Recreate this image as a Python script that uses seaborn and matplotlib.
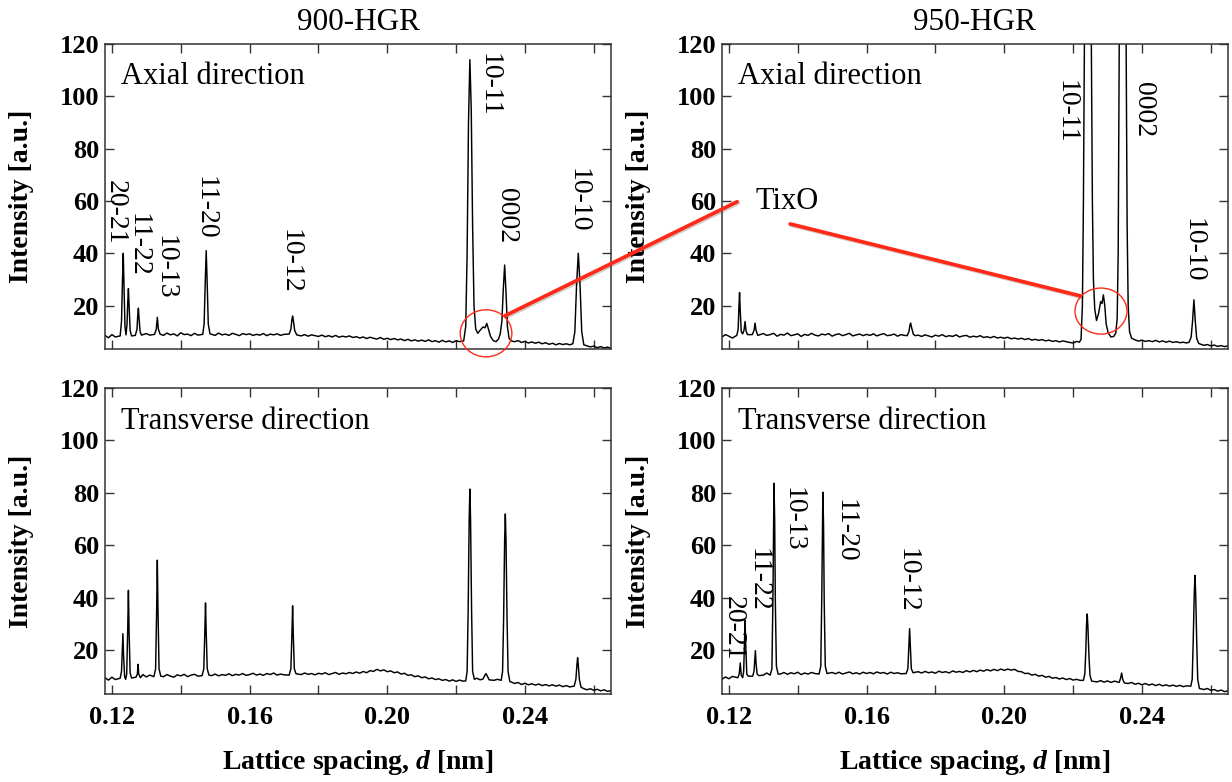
import numpy as np
import pandas as pd
import matplotlib
matplotlib.use("Agg")
import matplotlib.pyplot as plt
import seaborn as sns
from matplotlib.patches import Ellipse, ConnectionPatch
from matplotlib.ticker import FixedLocator, FormatStrFormatter
import matplotlib.patheffects as pe

# ---------------- data ----------------
# baseline sampling positions (nm)
d_grid = [0.118, 0.119, 0.120, 0.121, 0.122, 0.123, 0.124, 0.125, 0.126, 0.127,
          0.128, 0.129, 0.130, 0.131, 0.132, 0.133, 0.134, 0.135, 0.136, 0.137,
          0.138, 0.139, 0.140, 0.141, 0.142, 0.143, 0.144, 0.145, 0.146, 0.147,
          0.148, 0.149, 0.150, 0.151, 0.152, 0.153, 0.154, 0.155, 0.156, 0.157,
          0.158, 0.159, 0.160, 0.161, 0.162, 0.163, 0.164, 0.165, 0.166, 0.167,
          0.168, 0.169, 0.170, 0.171, 0.172, 0.173, 0.174, 0.175, 0.176, 0.177,
          0.178, 0.179, 0.180, 0.181, 0.182, 0.183, 0.184, 0.185, 0.186, 0.187,
          0.188, 0.189, 0.190, 0.191, 0.192, 0.193, 0.194, 0.195, 0.196, 0.197,
          0.198, 0.199, 0.200, 0.201, 0.202, 0.203, 0.204, 0.205, 0.206, 0.207,
          0.208, 0.209, 0.210, 0.211, 0.212, 0.213, 0.214, 0.215, 0.216, 0.217,
          0.218, 0.219, 0.220, 0.221, 0.222, 0.223, 0.224, 0.225, 0.226, 0.227,
          0.228, 0.229, 0.230, 0.231, 0.232, 0.233, 0.234, 0.235, 0.236, 0.237,
          0.238, 0.239, 0.240, 0.241, 0.242, 0.243, 0.244, 0.245, 0.246, 0.247,
          0.248, 0.249, 0.250, 0.251, 0.252, 0.253, 0.254, 0.255, 0.256, 0.257,
          0.258, 0.259, 0.260, 0.261, 0.262, 0.263, 0.264, 0.265]

# background intensity
base_900_axial = [8.6, 7.7, 8.9, 8.0, 8.4, 8.3, 8.3, 8.5, 8.6, 8.8,
                  9.4, 8.5, 9.3, 8.7, 9.0, 9.0, 9.0, 8.6, 9.5, 8.8,
                  9.2, 8.4, 9.6, 8.9, 9.1, 8.5, 9.4, 8.7, 9.2, 9.0,
                  9.0, 9.3, 8.6, 9.5, 8.8, 9.1, 8.6, 9.4, 9.0, 8.5,
                  9.3, 8.9, 9.2, 8.6, 9.0, 8.7, 9.3, 8.5, 9.1, 8.8,
                  9.2, 8.6, 9.0, 8.8, 9.0, 9.0, 9.0, 8.4, 8.9, 8.3,
                  8.8, 8.5, 8.2, 8.7, 8.1, 8.5, 8.0, 8.6, 7.9, 8.3,
                  8.0, 8.4, 7.8, 8.1, 7.6, 8.0, 7.4, 7.9, 7.5, 7.2,
                  7.8, 7.1, 7.5, 7.0, 7.4, 6.9, 7.2, 6.6, 7.1, 6.5,
                  6.9, 6.4, 6.8, 6.3, 6.9, 6.2, 6.6, 6.0, 6.7, 6.1,
                  6.5, 5.9, 6.6, 6.2, 6.5, 8.0, 8.0, 8.0, 8.0, 8.0,
                  8.0, 8.0, 8.0, 6.5, 6.5, 6.5, 6.5, 6.5, 6.5, 6.2,
                  6.6, 5.9, 6.3, 5.7, 6.1, 5.6, 6.0, 5.4, 5.8, 5.2,
                  5.6, 5.0, 5.5, 5.1, 5.4, 5.0, 5.3, 5.0, 5.0, 5.0,
                  4.6, 4.2, 4.5, 3.9, 4.3, 3.8, 4.1, 3.7]
base_950_axial = [8.0, 8.9, 8.3, 7.6, 9.0, 8.8, 8.8, 8.8, 8.8, 8.8,
                  8.8, 8.4, 9.3, 8.6, 8.9, 9.4, 8.3, 9.0, 8.7, 9.5,
                  8.5, 8.8, 9.2, 8.2, 9.0, 8.6, 9.4, 8.7, 8.4, 9.1,
                  8.8, 9.3, 8.3, 8.9, 9.2, 8.5, 8.9, 9.4, 8.4, 8.8,
                  9.1, 8.5, 9.0, 8.6, 9.2, 8.4, 8.9, 9.3, 8.5, 8.7,
                  9.1, 8.3, 8.9, 8.6, 8.6, 8.6, 8.6, 8.7, 8.2, 8.8,
                  8.4, 8.0, 8.7, 8.3, 8.9, 8.1, 8.5, 8.2, 8.8, 8.0,
                  8.4, 8.6, 7.9, 8.3, 8.0, 8.5, 7.8, 8.1, 7.7, 8.2,
                  7.6, 7.9, 7.5, 7.9, 7.3, 7.6, 7.2, 7.5, 7.0, 7.4,
                  6.8, 7.1, 6.7, 7.0, 6.5, 6.8, 6.3, 6.6, 6.1, 6.5,
                  6.2, 5.9, 5.7, 6.3, 8.0, 8.0, 8.0, 8.0, 8.0, 8.0,
                  8.0, 8.0, 8.0, 8.0, 8.0, 8.0, 8.0, 8.0, 8.0, 8.0,
                  6.9, 6.4, 6.8, 6.3, 6.6, 6.2, 6.7, 6.1, 6.5, 6.0,
                  6.4, 5.9, 6.2, 5.8, 6.0, 5.7, 5.8, 5.8, 5.8, 5.2,
                  4.8, 5.1, 4.6, 4.9, 4.4, 4.7, 4.3, 4.6]
base_900_transverse = [9.6, 8.7, 9.8, 8.9, 9.4, 10.0, 10.0, 10.0, 10.0, 10.0,
                       10.2, 10.8, 9.9, 10.6, 10.1, 10.5, 10.5, 10.0, 10.8, 10.2,
                       9.8, 10.7, 10.3, 10.9, 10.0, 10.6, 10.9, 10.2, 10.7, 10.5,
                       10.5, 10.4, 11.0, 10.3, 10.8, 10.5, 11.1, 10.4, 10.9, 10.6,
                       11.2, 10.5, 10.8, 11.3, 10.6, 11.0, 10.5, 11.2, 10.8, 11.4,
                       10.6, 11.0, 10.7, 11.1, 11.0, 11.0, 11.3, 10.8, 11.4, 10.9,
                       11.2, 10.7, 11.3, 11.0, 11.5, 10.8, 11.2, 11.6, 10.9, 11.4,
                       11.1, 11.6, 11.2, 11.8, 11.3, 12.0, 11.5, 12.3, 12.0, 12.8,
                       12.2, 12.6, 11.9, 12.2, 11.5, 11.8, 11.0, 11.3, 10.5, 10.7,
                       10.0, 10.3, 9.6, 9.9, 9.2, 9.5, 8.9, 9.2, 8.6, 8.9,
                       8.3, 8.8, 8.2, 8.7, 8.3, 9.0, 9.0, 9.0, 9.4, 8.8,
                       9.0, 9.0, 9.2, 8.6, 9.0, 8.5, 8.5, 8.5, 7.8, 7.4,
                       7.8, 7.0, 7.5, 6.9, 7.3, 6.8, 7.2, 6.6, 7.0, 6.5,
                       6.9, 6.4, 6.8, 6.2, 6.6, 6.1, 6.3, 6.3, 6.3, 5.5,
                       5.0, 5.4, 4.8, 5.2, 4.6, 5.0, 4.4, 4.7]
base_950_transverse = [9.0, 9.9, 9.2, 10.1, 9.4, 10.0, 10.0, 10.0, 10.0, 10.0,
                       10.8, 11.2, 10.6, 11.4, 10.9, 11.0, 11.0, 11.0, 11.6, 10.9,
                       11.5, 11.1, 11.7, 10.8, 11.4, 11.0, 11.6, 11.2, 11.5, 11.2,
                       11.2, 11.0, 11.6, 11.1, 11.7, 11.0, 11.4, 11.8, 11.1, 11.5,
                       11.0, 11.7, 11.2, 11.6, 11.1, 11.8, 11.3, 11.6, 11.0, 11.7,
                       11.2, 11.5, 11.1, 11.6, 11.3, 11.3, 11.3, 11.9, 11.4, 12.0,
                       11.5, 11.8, 11.3, 12.1, 11.6, 11.9, 11.4, 12.2, 11.7, 12.0,
                       11.6, 12.3, 11.8, 12.4, 11.9, 12.5, 12.1, 12.7, 12.2, 12.8,
                       12.3, 12.9, 12.4, 12.9, 12.5, 12.8, 12.0, 11.9, 11.2, 11.3,
                       10.6, 10.9, 10.2, 10.5, 9.8, 10.1, 9.4, 9.7, 9.1, 9.5,
                       8.9, 9.3, 8.7, 9.0, 8.6, 8.6, 8.6, 8.6, 8.6, 8.0,
                       8.5, 7.9, 8.4, 7.8, 8.3, 7.9, 7.9, 7.9, 7.4, 7.8,
                       7.1, 7.5, 6.9, 7.4, 6.8, 7.2, 6.6, 7.1, 6.5, 6.9,
                       6.4, 6.8, 6.3, 6.7, 6.2, 6.5, 6.0, 6.0, 6.0, 5.6,
                       5.1, 5.5, 4.8, 5.1, 4.5, 4.9, 4.3, 4.6]

# diffraction peak profiles (d [nm], intensity)
peaks_900_axial = [
    (0.1224, 8.4), (0.1228, 14), (0.1231, 31), (0.1233, 40), (0.1235, 29), (0.1238, 12),
    (0.1241, 8.8), (0.1244, 13), (0.1246, 21), (0.1248, 26.5), (0.1250, 20), (0.1253, 10.5),
    (0.1257, 8.4),
    (0.1268, 8.6), (0.1273, 11), (0.1275, 16), (0.1277, 19), (0.1279, 15), (0.1282, 10), (0.1286, 8.7),
    (0.1324, 9.0), (0.1329, 11), (0.1332, 15.5), (0.1335, 11), (0.1340, 9.1),
    (0.1464, 9.0), (0.1468, 13), (0.1471, 28), (0.1474, 41), (0.1477, 28), (0.1480, 13), (0.1485, 9.2),
    (0.1715, 9.1), (0.1720, 11), (0.1723, 14.5), (0.1725, 16), (0.1727, 14.5), (0.1731, 10.5), (0.1737, 8.8),
    (0.2222, 6.5), (0.2228, 12), (0.2232, 40), (0.2236, 90), (0.2240, 114), (0.2244, 95),
    (0.2248, 50), (0.2252, 20), (0.2257, 11), (0.2263, 9.4), (0.2270, 10.6), (0.2278, 11.8),
    (0.2284, 11.5), (0.2289, 13.2), (0.2294, 11), (0.2300, 8.2), (0.2308, 6.6), (0.2316, 6.2),
    (0.2323, 7.2), (0.2328, 9), (0.2333, 14), (0.2337, 26), (0.2341, 35.5), (0.2345, 25),
    (0.2349, 12), (0.2354, 7.4), (0.2362, 6.4),
    (0.2539, 5.4), (0.2545, 10), (0.2550, 28), (0.2555, 40), (0.2560, 28), (0.2565, 10), (0.2571, 5.0),
]
peaks_950_axial = [
    (0.1223, 8.6), (0.1227, 11), (0.1229, 19), (0.1231, 25), (0.1233, 18), (0.1236, 10),
    (0.1240, 9.2), (0.1244, 10.6), (0.1247, 13.9), (0.1250, 10.2), (0.1254, 8.9),
    (0.1268, 8.9), (0.1273, 10.5), (0.1276, 13.3), (0.1279, 10.5), (0.1284, 8.6),
    (0.1718, 8.5), (0.1723, 10), (0.1726, 12.5), (0.1728, 13.3), (0.1731, 11.5), (0.1736, 9), (0.1741, 8.5),
    (0.2218, 6.0), (0.2223, 7.0), (0.2227, 20), (0.2230, 60), (0.2233, 120), (0.2238, 260),
    (0.2243, 330), (0.2248, 260), (0.2253, 120), (0.2256, 60), (0.2259, 30), (0.2263, 18.5),
    (0.2268, 14.3), (0.2274, 17), (0.2280, 21.5), (0.2284, 20.8), (0.2288, 24.1), (0.2292, 20),
    (0.2296, 13), (0.2302, 9.5), (0.2310, 8.0), (0.2318, 8.2), (0.2324, 9.5), (0.2328, 15),
    (0.2331, 40), (0.2334, 120), (0.2339, 250), (0.2344, 300), (0.2349, 250), (0.2354, 120),
    (0.2357, 50), (0.2360, 20), (0.2364, 10), (0.2370, 7.5),
    (0.2537, 6.0), (0.2543, 8.0), (0.2547, 14), (0.2551, 22.2), (0.2555, 14), (0.2559, 7.5), (0.2565, 5.5),
]
peaks_900_transverse = [
    (0.1224, 9.4), (0.1228, 12), (0.1230, 19), (0.1232, 26.4), (0.1234, 18), (0.1237, 10),
    (0.1240, 9.0), (0.1243, 11), (0.1246, 28), (0.1248, 42.9), (0.1250, 27), (0.1253, 11.5),
    (0.1257, 9.5),
    (0.1270, 9.8), (0.1274, 11), (0.1276, 14.7), (0.1278, 11), (0.1283, 9.6),
    (0.1322, 10.0), (0.1327, 13), (0.1330, 35), (0.1332, 54.4), (0.1334, 35), (0.1337, 13), (0.1342, 10.2),
    (0.1462, 10.4), (0.1467, 13), (0.1470, 27), (0.1472, 38.1), (0.1474, 27), (0.1477, 13), (0.1482, 10.6),
    (0.1715, 10.6), (0.1720, 13), (0.1723, 26), (0.1725, 37), (0.1727, 26), (0.1730, 13), (0.1735, 11.1),
    (0.2228, 8.4), (0.2232, 12), (0.2235, 35), (0.2238, 70), (0.2240, 81.5), (0.2242, 70),
    (0.2245, 35), (0.2248, 12), (0.2253, 9.0),
    (0.2278, 9.1), (0.2284, 10.6), (0.2287, 11.2), (0.2290, 10.4), (0.2296, 8.8),
    (0.2331, 8.6), (0.2335, 12), (0.2338, 32), (0.2341, 62), (0.2343, 72), (0.2345, 62),
    (0.2348, 32), (0.2351, 12), (0.2356, 8.2),
    (0.2543, 6.4), (0.2548, 9), (0.2551, 14.5), (0.2553, 17.2), (0.2555, 14.5), (0.2558, 9), (0.2563, 6.0),
]
peaks_950_transverse = [
    (0.1226, 9.6), (0.1230, 11), (0.1233, 15.2), (0.1236, 10.5), (0.1240, 9.6), (0.1243, 12),
    (0.1245, 22), (0.1247, 31.4), (0.1249, 22), (0.1252, 11), (0.1256, 10.2),
    (0.1269, 10.2), (0.1273, 12), (0.1275, 16), (0.1277, 19.9), (0.1279, 15), (0.1282, 11), (0.1287, 10.4),
    (0.1320, 10.6), (0.1325, 13), (0.1328, 40), (0.1330, 72), (0.1331, 83.7), (0.1333, 70),
    (0.1335, 38), (0.1338, 14), (0.1343, 11),
    (0.1462, 11), (0.1467, 14), (0.1470, 42), (0.1472, 70), (0.1473, 80.3), (0.1475, 68),
    (0.1477, 38), (0.1480, 14), (0.1485, 11.2),
    (0.1715, 11.2), (0.1720, 13), (0.1723, 22), (0.1725, 28.3), (0.1727, 22), (0.1730, 13), (0.1735, 11.5),
    (0.2230, 8.6), (0.2234, 11), (0.2237, 20), (0.2239, 30), (0.2241, 33.9), (0.2243, 29),
    (0.2246, 18), (0.2249, 10.5), (0.2254, 8.3),
    (0.2334, 7.8), (0.2338, 9.5), (0.2341, 11.4), (0.2344, 9), (0.2349, 7.6),
    (0.2542, 6.4), (0.2546, 9), (0.2549, 24), (0.2552, 42), (0.2554, 48.6), (0.2556, 42),
    (0.2559, 24), (0.2562, 9), (0.2567, 5.5),
]

# reflection labels (text only)
labels_900_axial = ["20-21", "11-22", "10-13", "11-20", "10-12", "10-11", "0002", "10-10"]
labels_950_axial = ["10-11", "0002", "10-10"]
labels_950_transverse = ["20-21", "11-22", "10-13", "11-20", "10-12"]
titles = ["900-HGR", "950-HGR"]
directions = ["Axial direction", "Transverse direction"]
x_ticks = [0.12, 0.16, 0.20, 0.24]
x_minor = [0.14, 0.18, 0.22, 0.26]
y_ticks = [20, 40, 60, 80, 100, 120]

# ---------------- layout / style ----------------
label_pos_900_axial = [(0.1211, 68.0), (0.1276, 55.4), (0.1356, 47.0), (0.1472, 69.5),
                       (0.1719, 49.3), (0.2295, 116.6), (0.2345, 65.0), (0.2553, 72.6)]
label_pos_950_axial = [(0.2181, 106.2), (0.2404, 105.5), (0.2550, 53.3)]
label_pos_950_transverse = [(0.1214, 40.6), (0.1285, 59.0), (0.1386, 82.3), (0.1537, 77.7), (0.1717, 59.0)]

sns.set_theme(style="ticks")
plt.rcParams["font.family"] = ["Liberation Serif", "DejaVu Serif"]
plt.rcParams["mathtext.fontset"] = "custom"
plt.rcParams["mathtext.it"] = "Liberation Serif:italic:bold"
plt.rcParams["mathtext.rm"] = "Liberation Serif:bold"
plt.rcParams["mathtext.bf"] = "Liberation Serif:bold"
plt.rcParams["text.color"] = "black"
plt.rcParams["axes.labelcolor"] = "black"
plt.rcParams["axes.titlecolor"] = "black"
plt.rcParams["xtick.labelcolor"] = "black"
plt.rcParams["ytick.labelcolor"] = "black"

RED = "#ff2a17"
SPINE = "#333333"


def spectrum(base, peaks):
    bd = np.array(d_grid)
    bi = np.array(base, dtype=float)
    pd_ = np.array([p[0] for p in peaks])
    pi = np.array([p[1] for p in peaks], dtype=float)
    dist = np.min(np.abs(bd[:, None] - pd_[None, :]), axis=1)
    keep = dist >= 0.00065
    d = np.concatenate([bd[keep], pd_])
    i = np.concatenate([bi[keep], pi])
    order = np.argsort(d)
    return pd.DataFrame({"d": d[order], "I": i[order]})


fig = plt.figure(figsize=(12.32, 7.82), dpi=100)
fig.patch.set_facecolor("white")

W = 506 / 1232
lefts = [105 / 1232, 722 / 1232]
bottoms = [1 - 349 / 782, 1 - 694 / 782]
heights = [305 / 782, 306 / 782]

axes = {}
for r in range(2):
    for c in range(2):
        axes[(r, c)] = fig.add_axes([lefts[c], bottoms[r], W, heights[r]])

data = {
    (0, 0): spectrum(base_900_axial, peaks_900_axial),
    (0, 1): spectrum(base_950_axial, peaks_950_axial),
    (1, 0): spectrum(base_900_transverse, peaks_900_transverse),
    (1, 1): spectrum(base_950_transverse, peaks_950_transverse),
}

for (r, c), ax in axes.items():
    sns.lineplot(data=data[(r, c)], x="d", y="I", ax=ax, color="black",
                 linewidth=1.05, estimator=None, sort=False)
    ax.set_xlim(0.118, 0.265)
    ax.set_ylim(3.4, 120)
    ax.xaxis.set_major_locator(FixedLocator(x_ticks))
    ax.xaxis.set_minor_locator(FixedLocator(x_minor))
    ax.xaxis.set_major_formatter(FormatStrFormatter("%.2f"))
    ax.yaxis.set_major_locator(FixedLocator(y_ticks))
    ax.tick_params(axis="both", which="both", direction="in", top=True, right=True,
                   length=6.5, width=1.0, color=SPINE, labelsize=19, labelcolor="black")
    ax.tick_params(axis="x", which="both", pad=9)
    ax.tick_params(axis="y", which="both", pad=4)
    for s in ax.spines.values():
        s.set_color(SPINE)
        s.set_linewidth(1.1)
    ax.set_ylabel("Intensity [a.u.]", fontsize=20, fontweight="bold", color="black")
    ax.yaxis.set_label_coords(-0.14, 0.5)
    if r == 0:
        ax.tick_params(axis="x", labelbottom=False)
        ax.set_xlabel("")
        ax.set_title(titles[c], fontsize=22.5, pad=10, color="black")
    else:
        ax.set_xlabel(r"Lattice spacing, $\mathit{d}$ [nm]", fontsize=20,
                      fontweight="bold", labelpad=13, color="black")
    for lab in ax.get_xticklabels() + ax.get_yticklabels():
        lab.set_fontweight("bold")
    ax.text(0.032, 0.893 if r == 0 else 0.889, directions[r], transform=ax.transAxes,
            fontsize=22, ha="left", va="center", color="black")

# reflection labels
for ax, labs, poss in [(axes[(0, 0)], labels_900_axial, label_pos_900_axial),
                       (axes[(0, 1)], labels_950_axial, label_pos_950_axial),
                       (axes[(1, 1)], labels_950_transverse, label_pos_950_transverse)]:
    for lab, (x, y) in zip(labs, poss):
        ax.text(x, y, lab, rotation=-90, ha="center", va="top", fontsize=20,
                color="black", clip_on=False)

# TixO annotation
axA, axB = axes[(0, 0)], axes[(0, 1)]
axA.add_patch(Ellipse((0.2287, 9.4), 0.0150, 18.0, fill=False, edgecolor=RED,
                      linewidth=1.0, clip_on=False, zorder=5))
axB.add_patch(Ellipse((0.2281, 17.9), 0.0151, 17.6, fill=False, edgecolor=RED,
                      linewidth=1.0, clip_on=False, zorder=5))
axB.text(0.1369, 59.7, "TixO", fontsize=22, ha="center", va="center", color="black")

shadow = [pe.SimpleLineShadow(offset=(1.0, -1.0), alpha=0.2), pe.Normal()]
con1 = ConnectionPatch(xyA=(0.2342, 16.1), coordsA="data", axesA=axA,
                       xyB=(0.1224, 59.7), coordsB="data", axesB=axB,
                       color=RED, linewidth=2.7, zorder=10)
con1.set_path_effects(shadow)
fig.add_artist(con1)
con2 = ConnectionPatch(xyA=(0.1378, 51.2), coordsA="data", axesA=axB,
                       xyB=(0.2221, 23.7), coordsB="data", axesB=axB,
                       color=RED, linewidth=2.7, zorder=10)
con2.set_path_effects(shadow)
fig.add_artist(con2)

fig.savefig("out.png", dpi=100, facecolor="white")
